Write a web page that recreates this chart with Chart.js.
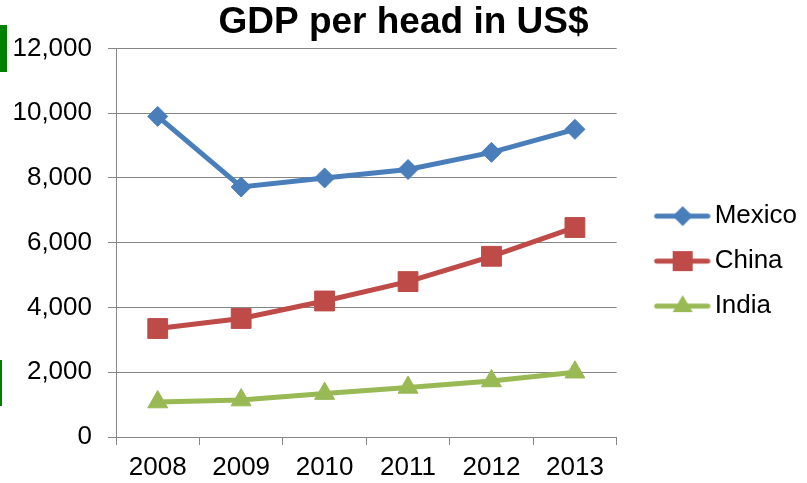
<!DOCTYPE html>
<html>
<head>
<meta charset="utf-8">
<script src="https://cdn.jsdelivr.net/npm/chart.js@4.4.0/dist/chart.umd.min.js"></script>
<style>
html, body { margin: 0; padding: 0; background: #fff; }
#wrap { position: relative; width: 807px; height: 483px; }
.mark { position: absolute; left: 0; background: #008000; }
</style>
</head>
<body>
<div id="wrap">
  <canvas id="chart" width="807" height="483"></canvas>
  <div class="mark" style="top:25px;width:7px;height:47px"></div>
  <div class="mark" style="top:360px;width:2px;height:46px"></div>
</div>
<script>
const years = ['2008', '2009', '2010', '2011', '2012', '2013'];
const mexico = [9900, 7720, 8000, 8260, 8790, 9500];
const china = [3350, 3660, 4200, 4800, 5580, 6470];
const india = [1080, 1140, 1340, 1530, 1730, 2000];

const blue = '#4A7EBB';
const red = '#BE4B48';
const green = '#98B954';
const font = 'Arial, "Liberation Sans"';

// little line+marker pictures for the legend
function legendIcon(color, shape) {
    const c = document.createElement('canvas');
    c.width = 84;
    c.height = 26;
    const g = c.getContext('2d');
    const cx = 56, cy = 13;
    g.strokeStyle = color;
    g.fillStyle = color;
    g.lineWidth = 5;
    g.lineCap = 'round';
    g.beginPath();
    g.moveTo(30, cy);
    g.lineTo(81, cy);
    g.stroke();
    g.beginPath();
    if (shape === 'diamond') {
        g.moveTo(cx, cy - 10); g.lineTo(cx + 10, cy); g.lineTo(cx, cy + 10); g.lineTo(cx - 10, cy);
    } else if (shape === 'square') {
        g.rect(cx - 10, cy - 10, 20, 20);
    } else {
        g.moveTo(cx, cy - 11); g.lineTo(cx + 10, cy + 6); g.lineTo(cx - 10, cy + 6);
    }
    g.closePath();
    g.fill();
    return c;
}

const icons = [legendIcon(blue, 'diamond'), legendIcon(red, 'square'), legendIcon(green, 'triangle')];

const ctx = document.querySelector('#chart').getContext('2d');
const chart = new Chart(ctx, {
    type: 'line',
    data: {
        labels: years,
        datasets: [{
            label: 'Mexico',
            data: mexico,
            borderColor: blue,
            backgroundColor: blue,
            borderWidth: 5,
            pointStyle: 'rectRot',
            pointRadius: 10,
            pointBorderWidth: 1
        },
        {
            label: 'China',
            data: china,
            borderColor: red,
            backgroundColor: red,
            borderWidth: 5,
            pointStyle: 'rect',
            pointRadius: 14,
            pointBorderWidth: 1
        },
        {
            label: 'India',
            data: india,
            borderColor: green,
            backgroundColor: green,
            borderWidth: 5,
            pointStyle: 'triangle',
            pointRadius: 11.5,
            pointBorderWidth: 1
        }]
    },
    options: {
        responsive: false,
        animation: false,
        locale: 'en-US',
        layout: {
            padding: {left: 0, right: 0, top: 0, bottom: 0}
        },
        plugins: {
            title: {
                display: true,
                text: 'GDP per head in US$',
                color: '#000',
                font: {family: font, size: 37, weight: 'bold'},
                padding: {top: 1, bottom: 3}
            },
            legend: {
                position: 'right',
                title: {
                    display: true,
                    text: ' ',
                    font: {family: font, size: 26},
                    padding: {top: 0, bottom: 8}
                },
                labels: {
                    usePointStyle: true,
                    pointStyleWidth: 66,
                    padding: 19,
                    color: '#000',
                    font: {family: font, size: 26},
                    generateLabels: (c) => c.data.datasets.map((ds, i) => ({
                        text: ds.label,
                        pointStyle: icons[i],
                        fillStyle: ds.borderColor,
                        strokeStyle: ds.borderColor,
                        lineWidth: 0,
                        fontColor: '#000',
                        datasetIndex: i
                    }))
                }
            },
            tooltip: {enabled: false}
        },
        scales: {
            x: {
                offset: true,
                afterFit: (scale) => { scale.height = 46; },
                grid: {
                    offset: true,
                    drawOnChartArea: false,
                    color: '#868686',
                    tickLength: 8
                },
                border: {color: '#868686', width: 1},
                ticks: {
                    color: '#000',
                    padding: 7,
                    font: {family: font, size: 26}
                }
            },
            y: {
                min: 0,
                max: 12000,
                afterFit: (scale) => { scale.width = 116; },
                grid: {
                    color: '#868686',
                    tickLength: 8
                },
                border: {color: '#868686', width: 1},
                ticks: {
                    stepSize: 2000,
                    color: '#000',
                    padding: 16,
                    font: {family: font, size: 26}
                }
            }
        }
    }
});
</script>
</body>
</html>
